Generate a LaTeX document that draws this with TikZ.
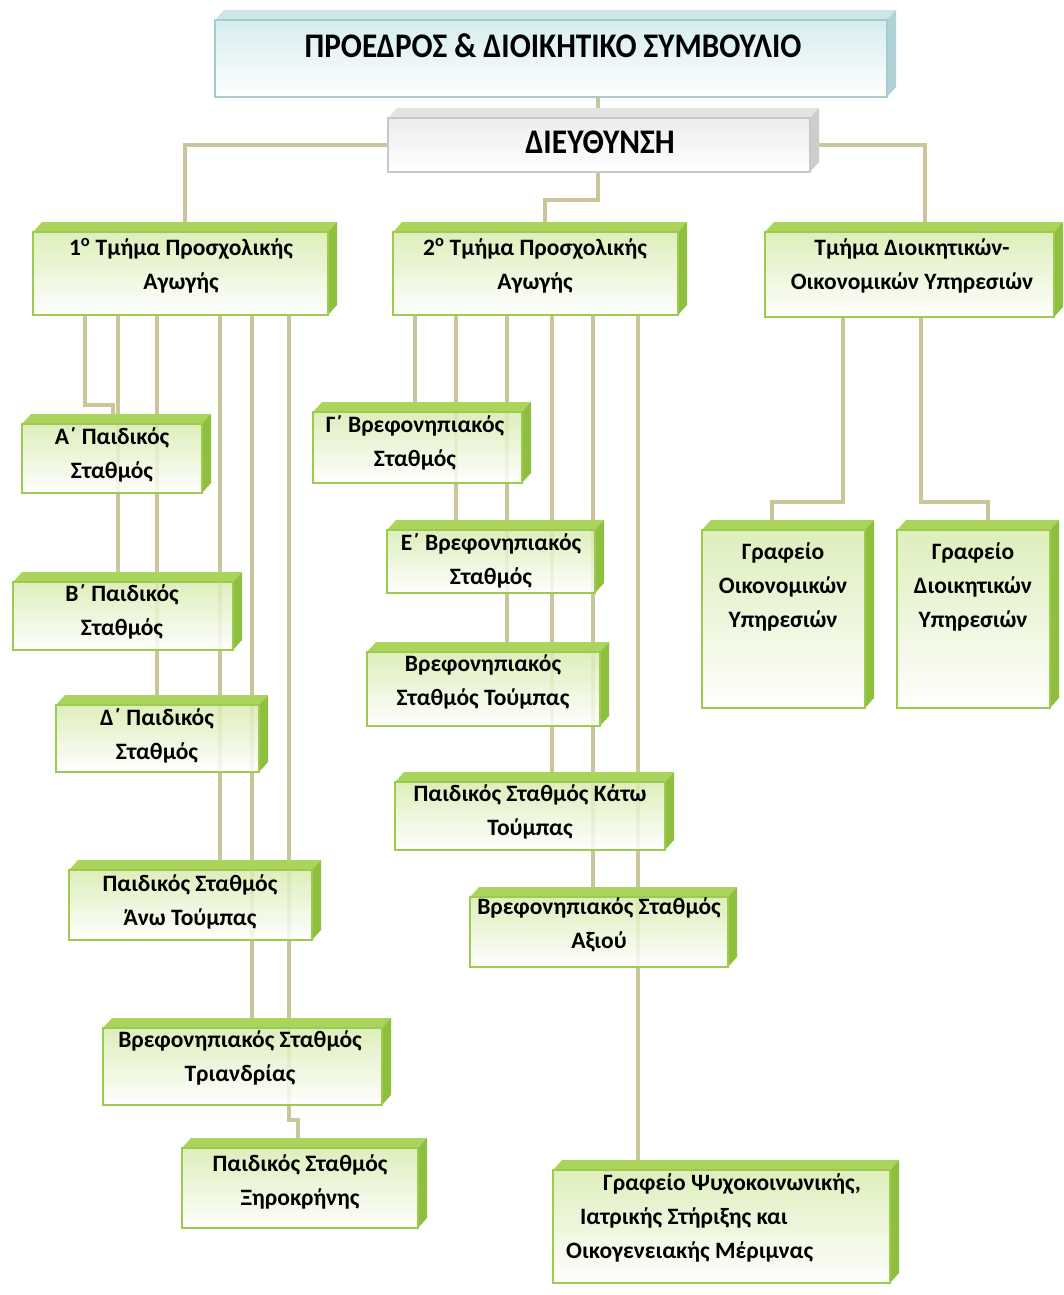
\documentclass[tikz,border=0pt]{standalone}
\usepackage{fontspec}
\setmainfont{Carlito}
\usetikzlibrary{calc,fit}

% box colour sets: g = green, t = teal, w = grey
\definecolor{gtop}{HTML}{AAD45C}
\definecolor{gside}{HTML}{8EBF3F}
\definecolor{gfront}{HTML}{D8ECB0}
\definecolor{gline}{HTML}{9DCB50}
\definecolor{ttop}{HTML}{CDE6E8}
\definecolor{tside}{HTML}{B0D2D5}
\definecolor{tfront}{HTML}{D0EAED}
\definecolor{tline}{HTML}{A6CBCF}
\definecolor{wtop}{HTML}{E3E3E3}
\definecolor{wside}{HTML}{CDCDCD}
\definecolor{wfront}{HTML}{EAEAEA}
\definecolor{wline}{HTML}{C8C8C8}
\definecolor{conncol}{HTML}{C9C69C}

% a raised box: colour set, name, front face corners
\newcommand\orgbox[6]{%
  \node[fit={(#3,#4) (#5,#6)}, inner sep=0pt, outer sep=0pt] (#2) {};
  \shade[top color=#1front, bottom color=white, fill opacity=0.85]
    (#2.north west) rectangle (#2.south east);
  \fill[#1top] (#2.north west) -- ++(9,-10) -- ([shift={(9,-10)}]#2.north east)
    -- (#2.north east) -- cycle;
  \fill[#1side] (#2.north east) -- ++(9,-10) -- ([shift={(9,-10)}]#2.south east)
    -- (#2.south east) -- cycle;
  \draw[#1line, line width=1.5pt] (#2.north west) rectangle (#2.south east);
}

\tikzset{
  conn/.style={draw=conncol, line width=4pt},
  lbl/.style={font=\fontsize{23.5}{34}\selectfont\bfseries, align=center,
    text=black, inner sep=0pt},
  ttl/.style={font=\fontsize{30}{36}\selectfont\bfseries, text=black, inner sep=0pt},
}

\begin{document}
\begin{tikzpicture}[x=1pt, y=-1pt]
\fill[white] (0,0) rectangle (1064,1295);
\useasboundingbox (0,0) rectangle (1064,1295);

% ---------- box frames (placed first so connectors can use them) ----------
\begin{scope}[opacity=0]
\node[fit={(215,20) (887,97)}, inner sep=0pt] (top) {};
\node[fit={(388,118) (810,172)}, inner sep=0pt] (dir) {};
\node[fit={(33,232) (328,315)}, inner sep=0pt] (d1) {};
\node[fit={(393,232) (678,315)}, inner sep=0pt] (d2) {};
\node[fit={(765,232) (1054,317)}, inner sep=0pt] (d3) {};
\node[fit={(22,424) (202,493)}, inner sep=0pt] (pa) {};
\node[fit={(13,582) (233,650)}, inner sep=0pt] (pb) {};
\node[fit={(56,705) (259,772)}, inner sep=0pt] (pd) {};
\node[fit={(69,870) (312,940)}, inner sep=0pt] (pan) {};
\node[fit={(103,1028) (382,1105)}, inner sep=0pt] (btr) {};
\node[fit={(182,1148) (418,1228)}, inner sep=0pt] (pxe) {};
\node[fit={(313,412) (522,483)}, inner sep=0pt] (bg) {};
\node[fit={(387,530) (595,593)}, inner sep=0pt] (be) {};
\node[fit={(367,652) (600,726)}, inner sep=0pt] (btu) {};
\node[fit={(395,782) (665,850)}, inner sep=0pt] (pkt) {};
\node[fit={(470,897) (728,967)}, inner sep=0pt] (bax) {};
\node[fit={(553,1170) (890,1283)}, inner sep=0pt] (gps) {};
\node[fit={(702,530) (865,708)}, inner sep=0pt] (gof) {};
\node[fit={(897,530) (1050,708)}, inner sep=0pt] (gdi) {};
\end{scope}

% ---------- connectors ----------
\draw[conn] (top.south -| 598,0) -- (dir.north -| 598,0);
\draw[conn] (dir.west) -| (d1.north -| 185,0);
\draw[conn] (dir.east) -| (d3.north -| 925,0);
\draw[conn] (dir.south -| 598,0) -- ++(0,28) -| (d2.north -| 545,0);

% first department
\draw[conn] (d1.south -| 85,0) -- ($(pa.north -| 85,0)+(0,-19)$) -| (pa.north -| 113,0);
\draw[conn] (d1.south -| 118,0) -- (pb.north -| 118,0);
\draw[conn] (d1.south -| 157,0) -- (pd.north -| 157,0);
\draw[conn] (d1.south -| 220,0) -- (pan.north -| 220,0);
\draw[conn] (d1.south -| 252,0) -- (btr.north -| 252,0);
\draw[conn] (d1.south -| 289,0) -- ($(pxe.north -| 289,0)+(0,-28)$) -| (pxe.north -| 298,0);

% second department
\draw[conn] (d2.south -| 415,0) -- (bg.north -| 415,0);
\draw[conn] (d2.south -| 456,0) -- (be.north -| 456,0);
\draw[conn] (d2.south -| 507,0) -- (btu.north -| 507,0);
\draw[conn] (d2.south -| 552,0) -- (pkt.north -| 552,0);
\draw[conn] (d2.south -| 593,0) -- (bax.north -| 593,0);
\draw[conn] (d2.south -| 638,0) -- (gps.north -| 638,0);

% administrative department
\draw[conn] (d3.south -| 843,0) -- ($(gof.north -| 843,0)+(0,-28)$) -| (gof.north -| 772,0);
\draw[conn] (d3.south -| 921,0) -- ($(gdi.north -| 921,0)+(0,-28)$) -| (gdi.north -| 988,0);

% ---------- boxes ----------
\orgbox{t}{topb}{215}{20}{887}{97}
\orgbox{w}{dirb}{388}{118}{810}{172}
\orgbox{g}{d1b}{33}{232}{328}{315}
\orgbox{g}{d2b}{393}{232}{678}{315}
\orgbox{g}{d3b}{765}{232}{1054}{317}
\orgbox{g}{pab}{22}{424}{202}{493}
\orgbox{g}{pbb}{13}{582}{233}{650}
\orgbox{g}{pdb}{56}{705}{259}{772}
\orgbox{g}{panb}{69}{870}{312}{940}
\orgbox{g}{btrb}{103}{1028}{382}{1105}
\orgbox{g}{pxeb}{182}{1148}{418}{1228}
\orgbox{g}{bgb}{313}{412}{522}{483}
\orgbox{g}{beb}{387}{530}{595}{593}
\orgbox{g}{btub}{367}{652}{600}{726}
\orgbox{g}{pktb}{395}{782}{665}{850}
\orgbox{g}{baxb}{470}{897}{728}{967}
\orgbox{g}{gpsb}{553}{1170}{890}{1283}
\orgbox{g}{gofb}{702}{530}{865}{708}
\orgbox{g}{gdib}{897}{530}{1050}{708}

% ---------- labels ----------
\node[ttl] (t-top) at (553,46) {\scalebox{1.04}[1.15]{ΠΡΟΕΔΡΟΣ \& ΔΙΟΙΚΗΤΙΚΟ ΣΥΜΒΟΥΛΙΟ}};
\node[ttl] (t-dir) at (600,142) {\scalebox{1.05}[1.15]{ΔΙΕΥΘΥΝΣΗ}};
\node[lbl] (t-d1) at (181,266) {1\textsuperscript{ο} Τμήμα Προσχολικής\\Αγωγής};
\node[lbl] (t-d2) at (535,266) {2\textsuperscript{ο} Τμήμα Προσχολικής\\Αγωγής};
\node[lbl] (t-d3) at (912,266) {Τμήμα Διοικητικών-\\Οικονομικών Υπηρεσιών};
\node[lbl] (t-pa) at (112,455) {Α΄ Παιδικός\\Σταθμός};
\node[lbl] (t-pb) at (122,612) {Β΄ Παιδικός\\Σταθμός};
\node[lbl] (t-pd) at (157,736) {Δ΄ Παιδικός\\Σταθμός};
\node[lbl] (t-pan) at (190,902) {Παιδικός Σταθμός\\Άνω Τούμπας};
\node[lbl] (t-btr) at (240,1058) {Βρεφονηπιακός Σταθμός\\Τριανδρίας};
\node[lbl] (t-pxe) at (300,1182) {Παιδικός Σταθμός\\Ξηροκρήνης};
\node[lbl] (t-bg) at (415,443) {Γ΄ Βρεφονηπιακός\\Σταθμός};
\node[lbl] (t-be) at (491,561) {Ε΄ Βρεφονηπιακός\\Σταθμός};
\node[lbl] (t-btu) at (483,682) {Βρεφονηπιακός\\Σταθμός Τούμπας};
\node[lbl] (t-pkt) at (530,812) {Παιδικός Σταθμός Κάτω\\Τούμπας};
\node[lbl] (t-bax) at (599,925) {Βρεφονηπιακός Σταθμός\\Αξιού};
\node[lbl, align=left, anchor=west] (t-gps) at (566,1218)
  {\hspace*{37pt}Γραφείο Ψυχοκοινωνικής,\\\hspace*{14pt}Ιατρικής Στήριξης και\\Οικογενειακής Μέριμνας};
\node[lbl] (t-gof) at (783,587) {Γραφείο\\Οικονομικών\\Υπηρεσιών};
\node[lbl] (t-gdi) at (973,587) {Γραφείο\\Διοικητικών\\Υπηρεσιών};
\end{tikzpicture}
\end{document}
